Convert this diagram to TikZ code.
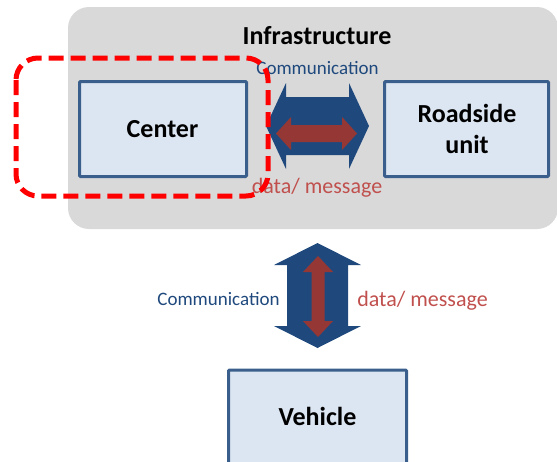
\documentclass[tikz,border=0pt]{standalone}
\usepackage{fontspec}
\setmainfont{Carlito}
\definecolor{panelgray}{HTML}{D9D9D9}
\definecolor{boxfill}{HTML}{DCE6F2}
\definecolor{boxline}{HTML}{3A5F8C}
\definecolor{linkblue}{HTML}{1F497D}
\definecolor{datared}{HTML}{953735}
\definecolor{msgred}{HTML}{C0504D}
\definecolor{focusred}{HTML}{FF0000}
\tikzset{
  unitbox/.style={draw=boxline, fill=boxfill, line width=3pt, rounded corners=1pt},
  boxlabel/.style={font=\fontsize{26}{31}\selectfont\bfseries, text=black, align=center},
  commlabel/.style={font=\fontsize{19}{22}\selectfont, text=linkblue},
  msglabel/.style={font=\fontsize{22}{26}\selectfont, text=msgred},
  focusframe/.style={draw=focusred, line width=5pt, dash pattern=on 15pt off 7pt, rounded corners=22pt},
  pics/dblarrow/.style args={#1/#2/#3/#4}{code={
    \fill[pic actions] (-#1,0) -- ({-#1+#4},-#2) -- ({-#1+#4},-#3) -- ({#1-#4},-#3)
      -- ({#1-#4},-#2) -- (#1,0) -- ({#1-#4},#2) -- ({#1-#4},#3)
      -- ({-#1+#4},#3) -- ({-#1+#4},#2) -- cycle;
  }}
}
\begin{document}
\begin{tikzpicture}[x=1pt,y=-1pt]
  \useasboundingbox (0,0) rectangle (557,461);
  \clip (0,0) rectangle (557,461);

  % infrastructure panel
  \fill[panelgray, rounded corners=21pt] (68,7) rectangle (558,229);
  \node[font=\fontsize{26}{31}\selectfont\bfseries, anchor=base] (infra) at (317,44) {Infrastructure};

  % units
  \node[unitbox, minimum width=167, minimum height=95] (center) at (163,129) {};
  \node[boxlabel, anchor=base] (centerlbl) at (162.5,137) {Center};
  \node[unitbox, minimum width=164, minimum height=95] (rsu) at (466.5,129) {};
  \node[boxlabel, anchor=base] (rsulbl1) at (467,122) {Roadside};
  \node[boxlabel, anchor=base] (rsulbl2) at (467,153) {unit};
  \node[unitbox, minimum width=178, minimum height=120, anchor=north] (vehicle) at (317.5,368.5) {};
  \node[boxlabel, anchor=base] (vehiclelbl) at (317.5,425) {Vehicle};

  % center <-> roadside unit link
  \pic[fill=linkblue] (linkh) at (317.5,126) {dblarrow=51.5/43/29/20};
  \pic[fill=datared] (datah) at (316.5,133.5) {dblarrow=40.5/16.5/8.5/15};
  \node[commlabel, anchor=base] (commh) at (317.5,74) {Communication};
  \node[msglabel, anchor=base] (msgh) at (317,193) {data/ message};

  % infrastructure <-> vehicle link
  \pic[fill=linkblue, rotate=90] (linkv) at (317.5,295.5) {dblarrow=52.5/43.5/30.5/22};
  \pic[fill=datared, rotate=90] (datav) at (318,296.5) {dblarrow=40.5/15/6.5/16};
  \node[commlabel, anchor=base] (commv) at (218.5,305) {Communication};
  \node[msglabel, anchor=base] (msgv) at (422.5,306) {data/ message};

  % highlighted center
  \draw[focusframe] (16,58) rectangle (268,196);
\end{tikzpicture}
\end{document}
